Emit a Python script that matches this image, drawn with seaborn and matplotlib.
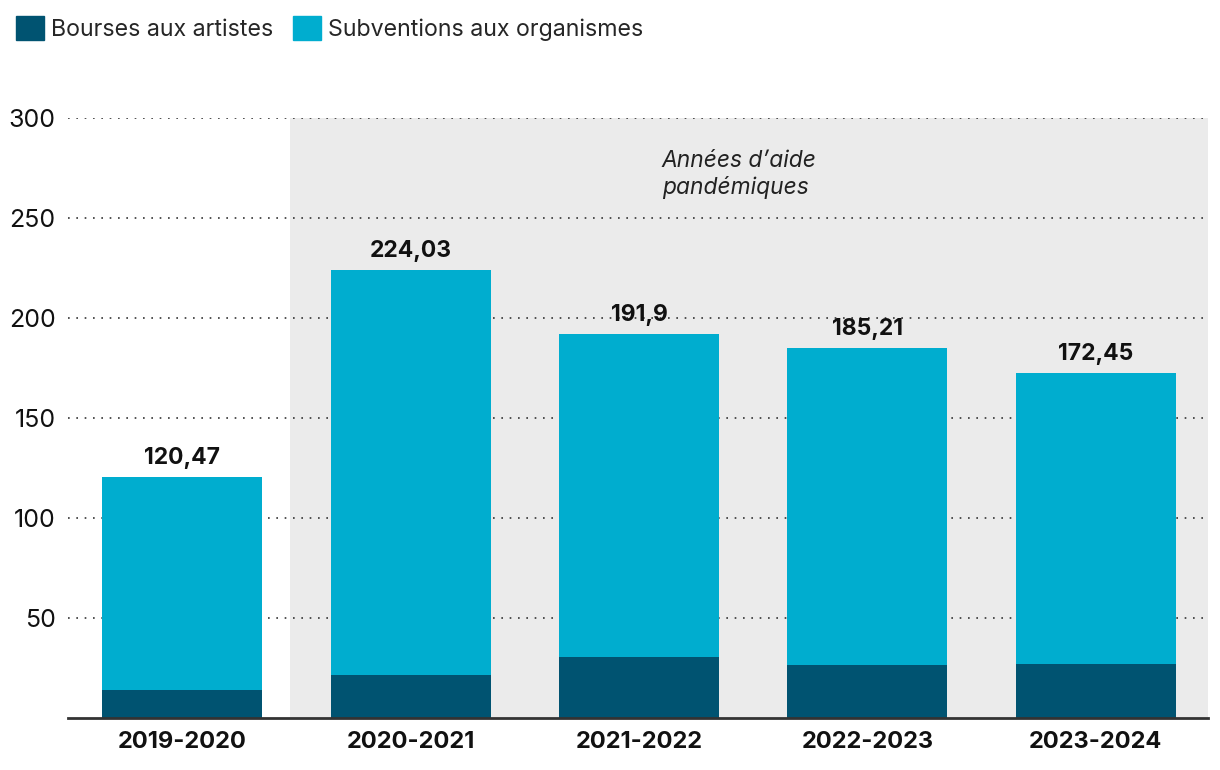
import pandas as pd
import seaborn as sns
import numpy as np
from matplotlib import pyplot as plt
from matplotlib.patches import Patch

years = ["2019-2020", "2020-2021", "2021-2022", "2022-2023", "2023-2024"]
totals = [120.47, 224.03, 191.9, 185.21, 172.45]
bourses = [14, 21.5, 30.5, 26.5, 27]
total_labels = ["120,47", "224,03", "191,9", "185,21", "172,45"]
yticks = [50, 100, 150, 200, 250, 300]

dark = "#005371"
light = "#00adcf"

sns.set_style("white")
plt.rcParams["font.family"] = ["Inter", "DejaVu Sans"]

df = pd.DataFrame({"year": years, "total": totals, "bourses": bourses})

fig = plt.figure(figsize=(12.2, 7.7), dpi=100)
ax = fig.add_axes([0.0557, 0.0675, 0.9343, 0.7793])

# pandemic years shading
ax.axvspan(0.47, 4.6, color="#ebebeb", zorder=0, lw=0)

sns.barplot(data=df, x="year", y="total", color=light, width=0.7,
            saturation=1, linewidth=0, ax=ax, zorder=2)
sns.barplot(data=df, x="year", y="bourses", color=dark, width=0.7,
            saturation=1, linewidth=0, ax=ax, zorder=3)

for i, (t, lab) in enumerate(zip(totals, total_labels)):
    ax.text(i, t + 4, lab, ha="center", va="bottom", fontsize=16.5,
            fontweight="bold", color="#111111", zorder=4)

ax.text(2.1, 284, "Années d’aide\npandémiques", ha="left", va="top",
        fontsize=16.4, style="italic", color="#222222", linespacing=1.25)

ax.set_xlim(-0.5, 4.49)
ax.set_ylim(0, 300)
ax.set_yticks(yticks)
ax.set_yticklabels([str(v) for v in yticks])
ax.yaxis.grid(True, linestyle=(0, (1, 4)), color="#333333", linewidth=1.2)
for g in ax.get_ygridlines():
    g.set_zorder(1)
ax.set_xlabel("")
ax.set_ylabel("")
for s in ["top", "right", "left"]:
    ax.spines[s].set_visible(False)
ax.spines["bottom"].set_color("#333333")
ax.spines["bottom"].set_linewidth(2)
ax.spines["bottom"].set_zorder(5)
ax.tick_params(axis="y", length=0, labelsize=18, pad=9, colors="#111111")
ax.tick_params(axis="x", length=0, labelsize=17, pad=9, colors="#111111")
for lab in ax.get_xticklabels():
    lab.set_fontweight("bold")

handles = [Patch(color=dark, label="Bourses aux artistes"),
           Patch(color=light, label="Subventions aux organismes")]
fig.legend(handles=handles, loc="upper left", bbox_to_anchor=(0.0, 1.0),
           ncol=2, frameon=False, fontsize=16.7, handlelength=1.2,
           handleheight=1.2, handletextpad=0.3, columnspacing=0.86,
           borderaxespad=0.3)

plt.savefig("out.png", dpi=100)
